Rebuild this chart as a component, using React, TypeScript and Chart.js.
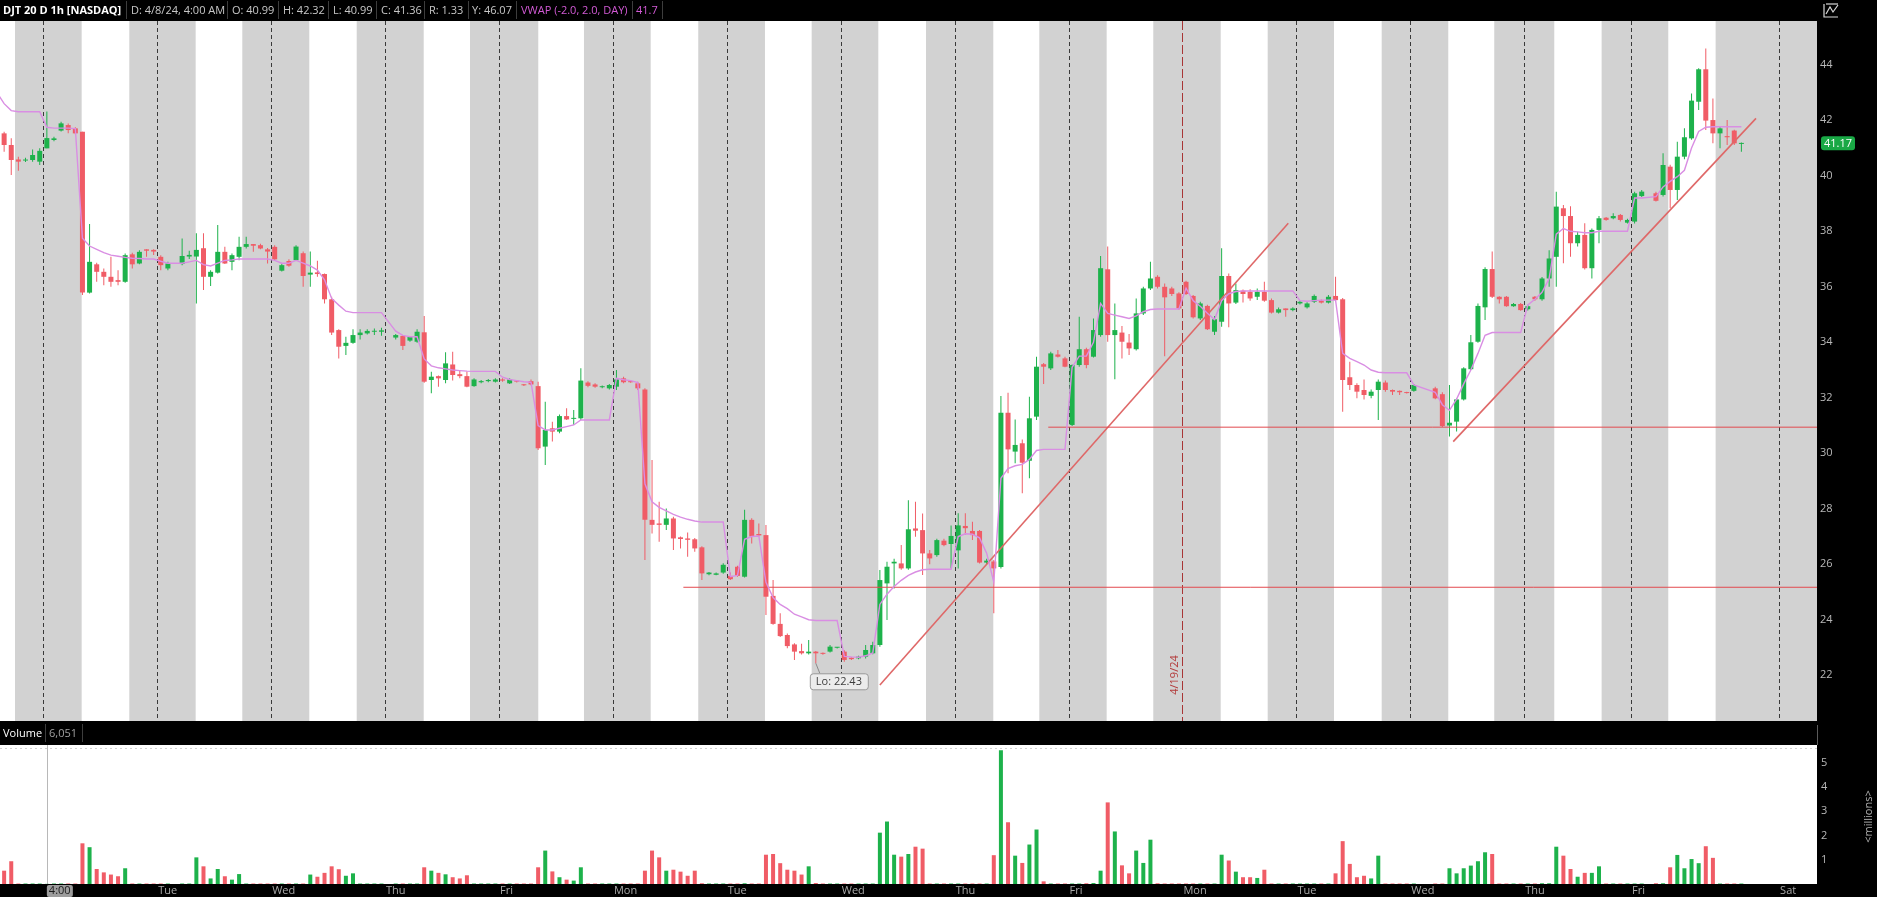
import React, { useEffect, useRef } from 'react';
import { Chart, registerables } from 'chart.js';

Chart.register(...registerables);

const FONT = '"Open Sans", "Noto Sans", "DejaVu Sans", sans-serif';
const UP = '#1db24b';
const DOWN = '#f05c66';

// x unit = hourly bar slot, counted from Mon 4/8/24 4:00 AM (extended hours, 16 bars / day)
const candleSlots = [
  -6, -5, -4, -3, -2, -1,
  0, 1, 2, 3, 4, 5, 6, 7, 8, 9, 10, 11, 12, 13, 14, 15,
  16, 17, 19, 20, 21, 22, 23, 24, 25, 26, 27, 28, 29, 30, 31,
  32, 33, 34, 35, 36, 37, 38, 39, 40, 41, 42, 43, 44, 45, 46, 47,
  49, 50, 51, 52, 53, 54, 55, 56, 57, 58, 59, 60, 61, 62, 63,
  64, 65, 66, 67, 68, 69, 70, 71, 72, 73, 74, 75, 76, 77, 78, 79,
  80, 81, 82, 83, 84, 85, 86, 87, 88, 89, 90, 91, 92, 93, 94, 95,
  96, 97, 98, 99, 100, 101, 102, 103, 104, 105, 106, 107, 108, 109, 110, 111,
  112, 113, 114, 115, 116, 117, 118, 119, 120, 121, 122, 123, 124, 125, 126, 127,
  128, 129, 130, 131, 132, 133, 134, 135, 136, 137, 138, 139, 140, 141, 142, 143,
  144, 145, 146, 147, 148, 149, 150, 151, 152, 153, 154, 155, 156, 157, 158, 159,
  160, 161, 162, 163, 164, 165, 166, 167, 168, 169, 170, 171, 172, 173, 174, 175,
  176, 177, 178, 179, 180, 181, 182, 183, 184, 185, 186, 187, 188, 189, 190, 191,
  192, 195, 196, 197, 198, 199, 200, 201, 202, 203, 204, 205, 206, 207,
  208, 209, 210, 211, 212, 213, 214, 215, 216, 217, 218, 219, 220, 221, 222,
  223, 224, 226, 227, 228, 229, 230, 231, 232, 233, 234, 235, 236, 237, 238,
];

const opens = [
  41.53, 41.11, 40.59, 40.55, 40.57, 40.51,
  40.99, 41.29, 41.63, 41.83, 41.71, 41.59, 35.79, 36.81, 36.54, 36.36, 36.24, 36.18, 37.17, 36.84, 37.35, 37.33,
  37.08, 36.66, 36.82, 37.09, 37.09, 37.39, 36.36, 36.51, 37.26, 36.90, 37.08, 37.44, 37.54, 37.50, 37.35,
  37.44, 36.58, 36.93, 36.96, 37.21, 36.44, 36.52, 36.46, 35.55, 34.44, 33.87, 33.98, 34.26, 34.32, 34.38, 34.38,
  34.17, 34.23, 34.06, 34.02, 34.36, 32.64, 32.78, 32.64, 33.20, 32.85, 32.78, 32.42, 32.56, 32.60, 32.58,
  32.66, 32.52, 32.60, 32.47, 32.60, 32.42, 30.24, 30.90, 30.78, 31.34, 31.24, 31.26, 32.55, 32.48, 32.38, 32.34,
  32.40, 32.70, 32.60, 32.52, 32.30, 27.60, 27.47, 27.42, 27.65, 26.97, 26.93, 26.90, 26.61, 25.64, 25.62, 25.70,
  25.58, 25.91, 25.55, 27.60, 27.09, 27.05, 24.86, 23.85, 23.45, 23.11, 22.87, 22.79, 22.85, 22.79, 22.85, 22.99,
  22.85, 22.63, 22.61, 22.67, 22.79, 23.09, 25.31, 26.03, 26.03, 25.85, 27.29, 27.23, 26.39, 26.33, 26.85, 26.73,
  26.50, 27.38, 27.20, 27.20, 26.06, 26.10, 25.90, 31.46, 30.06, 30.36, 29.73, 31.32, 33.21, 33.06, 33.56, 33.42,
  31.02, 33.18, 33.75, 33.48, 34.26, 36.63, 34.26, 34.35, 33.99, 33.75, 35.04, 35.94, 36.36, 36.00, 35.94, 35.76,
  36.18, 35.67, 34.86, 35.31, 34.38, 34.74, 36.39, 35.43, 35.86, 35.82, 35.64, 35.82, 35.52, 35.07, 35.22, 35.16,
  35.40, 35.26, 35.46, 35.50, 35.43, 35.67, 35.55, 32.74, 32.46, 32.28, 32.07, 32.28, 32.55, 32.28, 32.25, 32.20,
  32.25, 32.34, 32.13, 31.00, 31.14, 31.94, 33.03, 34.02, 35.26, 36.64, 35.64, 35.64, 35.30, 35.38,
  35.19, 35.64, 35.55, 36.30, 37.08, 38.83, 38.55, 37.57, 37.87, 36.67, 38.05, 38.49, 38.47, 38.59, 38.31,
  38.35, 39.27, 39.37, 39.31, 40.33, 39.49, 40.69, 41.35, 42.67, 43.84, 42.01, 41.53, 41.43, 41.63, 41.15,
];

const highs = [
  41.59, 41.35, 40.69, 40.65, 40.95, 40.99,
  42.32, 41.41, 41.95, 41.89, 41.75, 41.59, 38.26, 36.87, 36.66, 37.08, 36.60, 37.20, 37.23, 37.32, 37.35, 37.35,
  37.14, 36.90, 37.74, 37.30, 37.93, 37.93, 36.60, 38.23, 37.44, 37.20, 37.80, 37.80, 37.54, 37.55, 37.40,
  37.50, 36.84, 36.99, 37.50, 37.27, 37.27, 36.94, 36.48, 35.64, 34.47, 34.20, 34.47, 34.47, 34.47, 34.50, 34.52,
  34.30, 34.26, 34.23, 34.47, 34.95, 32.94, 32.80, 33.64, 33.66, 33.00, 32.95, 32.70, 32.64, 32.68, 32.70,
  32.70, 32.70, 32.62, 32.50, 32.66, 32.58, 31.86, 31.14, 31.40, 31.62, 31.56, 33.06, 32.60, 32.52, 32.44, 32.50,
  33.00, 32.76, 32.62, 32.58, 32.34, 29.76, 28.25, 28.01, 27.71, 27.00, 27.14, 26.95, 26.65, 25.72, 25.70, 26.04,
  25.70, 25.95, 27.96, 27.66, 27.47, 27.41, 25.43, 24.23, 23.50, 23.15, 23.13, 23.27, 22.87, 22.82, 23.09, 23.02,
  22.90, 22.65, 22.70, 23.09, 23.21, 25.79, 26.09, 26.20, 26.69, 28.31, 28.25, 27.83, 26.51, 26.92, 26.92, 27.40,
  27.84, 27.84, 27.53, 27.23, 26.20, 26.15, 32.06, 32.18, 31.22, 30.50, 32.04, 33.48, 33.25, 33.66, 33.72, 33.48,
  33.20, 34.92, 33.80, 34.86, 37.11, 37.45, 35.40, 34.59, 34.30, 35.58, 36.00, 36.90, 36.42, 36.12, 36.00, 35.80,
  36.22, 35.70, 35.46, 35.35, 34.95, 37.39, 36.48, 36.12, 35.90, 35.91, 35.94, 36.18, 35.58, 35.25, 35.22, 35.26,
  35.50, 35.44, 35.72, 35.54, 35.70, 36.36, 35.60, 33.30, 32.52, 32.66, 32.30, 32.66, 32.62, 32.30, 32.26, 32.22,
  32.50, 32.40, 32.20, 32.46, 31.98, 33.10, 34.26, 35.40, 36.70, 37.27, 35.66, 35.67, 35.42, 35.42,
  35.35, 35.67, 36.35, 37.32, 39.43, 38.95, 38.90, 37.98, 38.29, 38.10, 38.55, 38.52, 38.65, 38.62, 38.45,
  39.43, 39.49, 39.43, 40.81, 40.40, 41.23, 41.71, 42.97, 43.88, 44.59, 42.79, 41.77, 42.01, 41.66, 41.20,
];

const lows = [
  40.87, 40.03, 40.18, 40.50, 40.51, 40.39,
  40.99, 41.25, 41.60, 41.53, 41.50, 35.70, 35.76, 36.18, 36.06, 36.00, 36.06, 36.15, 36.66, 36.81, 37.08, 37.15,
  36.60, 36.60, 36.78, 37.00, 35.40, 35.88, 36.03, 36.48, 36.82, 36.60, 36.96, 37.38, 37.26, 37.35, 36.84,
  36.96, 36.55, 36.72, 36.94, 36.00, 36.00, 36.36, 35.40, 34.26, 33.42, 33.54, 33.95, 34.10, 34.28, 34.26, 34.24,
  34.10, 33.72, 34.02, 33.98, 32.54, 32.16, 32.40, 32.52, 32.62, 32.70, 32.38, 32.40, 32.52, 32.56, 32.55,
  32.58, 32.50, 32.55, 32.42, 32.45, 30.12, 29.58, 30.42, 30.72, 31.20, 31.02, 31.20, 32.38, 32.36, 32.34, 32.30,
  32.28, 32.52, 32.54, 32.28, 26.15, 27.11, 26.81, 27.23, 26.51, 26.57, 26.27, 26.45, 25.43, 25.60, 25.60, 25.66,
  25.43, 25.55, 25.52, 26.75, 27.00, 24.17, 23.82, 23.38, 22.97, 22.55, 22.75, 22.75, 22.43, 22.74, 22.82, 22.96,
  22.49, 22.55, 22.58, 22.60, 22.76, 23.03, 23.99, 25.13, 25.80, 25.80, 26.99, 25.61, 26.00, 26.27, 26.65, 25.85,
  25.85, 27.06, 26.87, 26.03, 26.00, 24.23, 25.85, 29.28, 29.64, 28.56, 29.10, 31.20, 32.50, 33.00, 33.45, 33.10,
  30.98, 33.12, 33.06, 33.45, 34.20, 34.02, 32.67, 33.42, 33.54, 33.70, 34.98, 35.88, 35.94, 33.50, 35.67, 35.17,
  35.70, 34.86, 34.80, 34.44, 34.26, 34.56, 34.54, 35.38, 35.43, 35.50, 35.52, 35.46, 35.04, 35.04, 34.92, 35.12,
  35.36, 35.22, 35.42, 35.40, 35.40, 35.48, 31.50, 32.28, 31.98, 31.94, 31.98, 31.20, 32.22, 32.10, 32.10, 32.15,
  32.22, 31.95, 30.95, 30.60, 30.78, 31.90, 33.00, 33.98, 34.80, 35.60, 35.40, 35.28, 35.28, 35.14,
  35.15, 35.50, 35.50, 36.00, 36.00, 36.85, 37.08, 37.45, 36.62, 36.30, 37.57, 38.38, 38.43, 38.35, 38.28,
  38.28, 39.24, 39.07, 39.25, 38.83, 39.13, 40.60, 41.30, 42.37, 41.65, 41.17, 40.99, 41.11, 41.11, 40.87,
];

const closes = [
  41.11, 40.57, 40.51, 40.57, 40.75, 40.90,
  41.36, 41.35, 41.89, 41.65, 41.53, 35.79, 36.90, 36.54, 36.36, 36.18, 36.18, 37.14, 36.81, 37.26, 37.30, 37.27,
  36.78, 36.84, 37.11, 37.15, 37.33, 36.36, 36.54, 37.26, 36.84, 37.14, 37.44, 37.54, 37.48, 37.38, 37.27,
  36.99, 36.78, 36.76, 37.45, 36.39, 36.51, 36.46, 35.55, 34.35, 33.84, 33.98, 34.26, 34.35, 34.41, 34.40, 34.43,
  34.26, 33.87, 34.20, 34.38, 32.58, 32.76, 32.70, 33.24, 32.82, 32.78, 32.40, 32.66, 32.60, 32.64, 32.66,
  32.62, 32.66, 32.58, 32.45, 32.48, 30.18, 30.84, 30.78, 31.34, 31.22, 31.27, 32.62, 32.43, 32.40, 32.40, 32.46,
  32.66, 32.56, 32.56, 32.34, 27.60, 27.42, 27.42, 27.65, 26.93, 26.91, 26.88, 26.57, 25.67, 25.70, 25.67, 25.98,
  25.46, 25.58, 27.60, 27.00, 27.04, 24.83, 23.85, 23.41, 23.05, 22.85, 22.79, 22.85, 22.79, 22.77, 23.03, 22.99,
  22.55, 22.58, 22.67, 22.91, 23.09, 25.43, 25.91, 26.09, 25.85, 27.26, 27.21, 26.39, 26.21, 26.87, 26.69, 27.02,
  27.40, 27.30, 27.05, 26.06, 26.13, 25.85, 31.46, 30.14, 30.30, 29.66, 31.26, 33.12, 33.12, 33.60, 33.48, 33.12,
  33.18, 33.75, 33.18, 34.44, 36.67, 34.26, 34.44, 34.02, 33.78, 35.04, 35.94, 36.30, 36.00, 35.62, 35.74, 35.22,
  35.74, 34.90, 35.40, 34.47, 34.83, 36.39, 35.40, 35.88, 35.74, 35.58, 35.82, 35.50, 35.07, 35.19, 35.16, 35.22,
  35.46, 35.40, 35.67, 35.43, 35.64, 35.52, 32.64, 32.46, 32.22, 32.10, 32.22, 32.58, 32.28, 32.22, 32.20, 32.17,
  32.46, 31.98, 30.98, 31.10, 31.94, 33.06, 34.00, 35.31, 36.64, 35.64, 35.55, 35.30, 35.38, 35.16,
  35.30, 35.55, 36.30, 37.02, 38.89, 38.55, 37.57, 37.87, 36.67, 38.05, 38.47, 38.41, 38.55, 38.41, 38.41,
  39.37, 39.43, 39.10, 40.39, 39.49, 40.69, 41.39, 42.71, 43.84, 41.99, 41.53, 41.71, 41.39, 41.17, 41.17,
];

// volume in millions
const volumes = [
  0.55, 0.94, 0.02, 0.02, 0.02, 0.02,
  0.006, 0.02, 0.02, 0.02, 0.02, 1.68, 1.52, 0.62, 0.48, 0.39, 0.32, 0.65, 0.02, 0.02, 0.02, 0.02,
  0.02, 0.02, 0.02, 0.02, 1.10, 0.73, 0.23, 0.62, 0.32, 0.18, 0.41, 0.02, 0.02, 0.02, 0.02,
  0.02, 0.02, 0.02, 0.02, 0.02, 0.39, 0.30, 0.46, 0.73, 0.61, 0.34, 0.44, 0.02, 0.02, 0.02, 0.02,
  0.02, 0.02, 0.02, 0.02, 0.69, 0.55, 0.46, 0.40, 0.28, 0.23, 0.36, 0.02, 0.02, 0.02, 0.02,
  0.02, 0.02, 0.02, 0.02, 0.02, 0.69, 1.38, 0.52, 0.28, 0.18, 0.14, 0.69, 0.02, 0.02, 0.02, 0.02,
  0.02, 0.02, 0.02, 0.02, 0.55, 1.38, 1.10, 0.55, 0.59, 0.51, 0.34, 0.55, 0.03, 0.02, 0.02, 0.02,
  0.02, 0.02, 0.03, 0.02, 0.02, 1.21, 1.24, 0.86, 0.59, 0.55, 0.39, 0.73, 0.04, 0.02, 0.02, 0.02,
  0.02, 0.02, 0.02, 0.02, 0.02, 2.12, 2.58, 1.21, 1.13, 1.24, 1.54, 1.46, 0.02, 0.02, 0.02, 0.02,
  0.02, 0.02, 0.02, 0.02, 0.02, 1.19, 5.52, 2.55, 1.17, 0.87, 1.63, 2.25, 0.11, 0.02, 0.02, 0.02,
  0.02, 0.02, 0.03, 0.04, 0.55, 3.37, 2.17, 0.77, 0.44, 1.38, 0.87, 1.83, 0.03, 0.02, 0.02, 0.02,
  0.02, 0.02, 0.02, 0.02, 0.02, 1.21, 0.97, 0.51, 0.28, 0.28, 0.25, 0.59, 0.02, 0.02, 0.02, 0.02,
  0.02, 0.02, 0.02, 0.02, 0.02, 0.44, 1.77, 0.83, 0.28, 0.34, 0.23, 1.17, 0.02, 0.02, 0.02, 0.02,
  0.02, 0.02, 0.02, 0.65, 0.44, 0.65, 0.76, 0.94, 1.31, 1.24, 0.02, 0.02, 0.02, 0.02,
  0.02, 0.02, 0.03, 0.03, 1.54, 1.17, 0.62, 0.30, 0.46, 0.46, 0.73, 0.02, 0.02, 0.02, 0.02,
  0.02, 0.02, 0.03, 0.03, 0.69, 1.20, 0.65, 1.03, 0.86, 1.56, 1.08, 0.02, 0.02, 0.02, 0.02,
];

// VWAP (-2.0, 2.0, DAY) study, read at bar slots
const vwapSlots = [
  -7, -6, -5, -4, -3, -2, -1,
  0, 1, 2, 3, 4, 5, 6, 7, 8, 9, 10, 11, 12, 13, 14, 15,
  16, 17, 19, 20, 21, 22, 23, 24, 25, 26, 27, 28, 29, 30, 31,
  32, 33, 34, 35, 36, 37, 38, 39, 40, 41, 42, 43, 44, 45, 46, 47,
  49, 50, 51, 52, 53, 54, 55, 56, 57, 58, 59, 60, 61, 62, 63,
  64, 65, 66, 67, 68, 69, 70, 71, 72, 73, 74, 75, 76, 77, 78, 79,
  80, 81, 82, 83, 84, 85, 86, 87, 88, 89, 90, 91, 92, 93, 94, 95,
  96, 97, 98, 99, 100, 101, 102, 103, 104, 105, 106, 107, 108, 109, 110, 111,
  112, 113, 114, 115, 116, 117, 118, 119, 120, 121, 122, 123, 124, 125, 126, 127,
  128, 129, 130, 131, 132, 133, 134, 135, 136, 137, 138, 139, 140, 141, 142, 143,
  144, 145, 146, 147, 148, 149, 150, 151, 152, 153, 154, 155, 156, 157, 158, 159,
  160, 161, 162, 163, 164, 165, 166, 167, 168, 169, 170, 171, 172, 173, 174, 175,
  176, 177, 178, 179, 180, 181, 182, 183, 184, 185, 186, 187, 188, 189, 190, 191,
  192, 195, 196, 197, 198, 199, 200, 201, 202, 203, 204, 205, 206, 207,
  208, 209, 210, 211, 212, 213, 214, 215, 216, 217, 218, 219, 220, 221, 222,
  223, 224, 226, 227, 228, 229, 230, 231, 232, 233, 234, 235, 236, 237, 238,
];

const vwapValues = [
  43.0, 42.6, 42.35, 42.31, 42.31, 42.31, 42.31,
  41.75, 41.72, 41.72, 41.72, 41.7, 37.75, 37.47, 37.35, 37.23, 37.14, 37.1, 37.06, 37.03, 37.02, 37.0, 37.0,
  36.92, 36.85, 36.85, 36.9, 36.95, 36.8, 36.75, 36.85, 36.95, 36.97, 37.0, 37.0, 37.0, 37.0, 37.0,
  36.95, 36.85, 36.85, 36.95, 36.85, 36.75, 36.6, 36.25, 35.58, 35.34, 35.12, 35.07, 35.07, 35.07, 35.07, 35.07,
  34.4, 34.25, 34.2, 34.2, 33.4, 33.15, 33.08, 33.04, 33.0, 32.98, 32.96, 32.95, 32.95, 32.95, 32.95,
  32.74, 32.66, 32.62, 32.58, 32.56, 31.0, 30.84, 30.84, 30.9, 30.96, 31.02, 31.2, 31.2, 31.2, 31.2, 31.2,
  32.7, 32.65, 32.62, 32.55, 28.9, 28.25, 28.05, 27.92, 27.8, 27.7, 27.62, 27.56, 27.52, 27.52, 27.52, 27.52,
  25.55, 25.6, 26.9, 27.0, 27.02, 25.35, 24.8, 24.55, 24.4, 24.2, 24.1, 24.0, 23.97, 23.97, 23.97, 23.97,
  22.68, 22.66, 22.65, 22.7, 22.8, 24.55, 24.92, 25.2, 25.42, 25.6, 25.72, 25.8, 25.82, 25.82, 25.82, 25.82,
  27.0, 27.1, 27.08, 26.95, 26.4, 25.35, 29.1, 29.45, 29.55, 29.6, 29.78, 30.1, 30.14, 30.14, 30.14, 30.14,
  33.1, 33.5, 33.5, 34.0, 35.4, 35.04, 34.98, 34.92, 34.86, 34.95, 35.1, 35.18, 35.2, 35.2, 35.2, 35.2,
  35.95, 35.5, 35.3, 35.05, 34.82, 35.5, 35.75, 35.83, 35.85, 35.85, 35.85, 35.85, 35.85, 35.85, 35.85, 35.85,
  35.5, 35.48, 35.5, 35.52, 35.52, 35.52, 33.6, 33.42, 33.3, 33.18, 33.0, 32.92, 32.9, 32.9, 32.9, 32.9,
  32.46, 32.2, 31.75, 31.55, 31.95, 32.5, 33.0, 33.6, 34.25, 34.35, 34.35, 34.35, 34.35, 34.35,
  35.35, 35.55, 35.8, 36.3, 37.9, 38.1, 38.0, 37.98, 37.95, 37.95, 38.0, 38.0, 38.0, 38.0, 38.0,
  39.2, 39.2, 39.25, 39.6, 39.8, 39.97, 40.2, 41.0, 41.6, 41.75, 41.77, 41.77, 41.77, 41.77, 41.77,
];

// drawn trend lines (slot, price) -> (slot, price); null end slot = extends to right edge
const trendStartSlots = [89.4, 140.65, 117.0, 197.53];
const trendStartPrices = [25.17, 30.94, 21.65, 30.42];
const trendEndSlots = [null, null, 174.36, 240.05];
const trendEndPrices = [25.17, 30.94, 38.29, 42.07];

// regular trading hours (white) per day, in bar slots
const rthOpenSlots = [-20, 4.89, 20.9, 36.86, 52.93, 69.02, 84.81, 100.86, 116.78, 132.93, 148.85, 164.87, 180.78, 196.83, 211.72, 227.73];
const rthCloseSlots = [-4.47, 11.58, 27.45, 43.52, 59.43, 75.44, 91.49, 107.42, 123.48, 139.39, 155.4, 171.47, 187.48, 203.29, 218.37, 234.38];

// day boundaries and bottom axis labels
const dayBoundarySlots = [-0.5, 15.5, 31.5, 47.5, 63.5, 79.5, 95.5, 111.5, 127.5, 143.5, 175.5, 191.5, 207.5, 222.5, 243.3];
const dayLabelSlots = [15.5, 31.5, 47.5, 63.5, 79.5, 95.5, 111.5, 127.5, 143.5, 159.5, 175.5, 191.5, 207.5, 222.5, 243.3];
const dayLabels = ['Tue', 'Wed', 'Thu', 'Fri', 'Mon', 'Tue', 'Wed', 'Thu', 'Fri', 'Mon', 'Tue', 'Wed', 'Thu', 'Fri', 'Sat'];
const dateMarkerSlot = 159.5;
const dateMarkerLabel = '4/19/24';
const cursorSlot = 0;
const cursorLabel = '4:00';

const priceTicks = [22, 24, 26, 28, 30, 32, 34, 36, 38, 40, 42, 44];
const volumeTicks = [1, 2, 3, 4, 5];

const X_MIN = -6.58;
const X_MAX = 248.62;
const PRICE_MIN = 20.35;
const PRICE_MAX = 45.58;
const VOL_MAX = 5.74;

const headerCells = [
  { left: 3, text: 'DJT 20 D 1h [NASDAQ]', color: '#ffffff', bold: true },
  { left: 131, text: 'D: 4/8/24, 4:00 AM', color: '#c8c8c8' },
  { left: 232, text: 'O: 40.99', color: '#c8c8c8' },
  { left: 283, text: 'H: 42.32', color: '#c8c8c8' },
  { left: 333, text: 'L: 40.99', color: '#c8c8c8' },
  { left: 381, text: 'C: 41.36', color: '#c8c8c8' },
  { left: 429, text: 'R: 1.33', color: '#c8c8c8' },
  { left: 472, text: 'Y: 46.07', color: '#c8c8c8' },
  { left: 521, text: 'VWAP (-2.0, 2.0, DAY)', color: '#d35ad6' },
  { left: 636, text: '41.7', color: '#d35ad6' },
];
const headerSeps = [126, 227, 278, 328, 376, 424, 468, 516, 632, 662];

function colorsFor() {
  return candleSlots.map((_, i) => (closes[i] >= opens[i] ? UP : DOWN));
}

function roundRect(ctx: CanvasRenderingContext2D, x: number, y: number, w: number, h: number, r: number) {
  ctx.beginPath();
  ctx.moveTo(x + r, y);
  ctx.lineTo(x + w - r, y);
  ctx.quadraticCurveTo(x + w, y, x + w, y + r);
  ctx.lineTo(x + w, y + h - r);
  ctx.quadraticCurveTo(x + w, y + h, x + w - r, y + h);
  ctx.lineTo(x + r, y + h);
  ctx.quadraticCurveTo(x, y + h, x, y + h - r);
  ctx.lineTo(x, y + r);
  ctx.quadraticCurveTo(x, y, x + r, y);
  ctx.closePath();
}

const pricePlugin = {
  id: 'priceDecor',
  beforeDraw(chart: any) {
    const { ctx, width, height } = chart;
    ctx.save();
    ctx.fillStyle = '#000';
    ctx.fillRect(0, 0, width, height);
    ctx.restore();
  },
  beforeDatasetsDraw(chart: any) {
    const { ctx, chartArea, scales } = chart;
    const { left, right, top, bottom } = chartArea;
    const x = scales.x;
    ctx.save();
    ctx.beginPath();
    ctx.rect(left, top, right - left, bottom - top);
    ctx.clip();
    ctx.fillStyle = '#ffffff';
    ctx.fillRect(left, top, right - left, bottom - top);
    ctx.fillStyle = '#d2d2d2';
    let from = X_MIN;
    for (let k = 0; k < rthOpenSlots.length; k++) {
      const a = x.getPixelForValue(from);
      const b = x.getPixelForValue(rthOpenSlots[k]);
      if (b > a) ctx.fillRect(a, top, b - a, bottom - top);
      from = rthCloseSlots[k];
    }
    const a0 = x.getPixelForValue(from);
    ctx.fillRect(a0, top, right - a0, bottom - top);

    ctx.strokeStyle = '#3a3a3a';
    ctx.lineWidth = 1;
    ctx.setLineDash([4, 3]);
    for (const s of dayBoundarySlots) {
      const px = Math.round(x.getPixelForValue(s)) + 0.5;
      ctx.beginPath();
      ctx.moveTo(px, top);
      ctx.lineTo(px, bottom);
      ctx.stroke();
    }
    ctx.strokeStyle = '#a83636';
    ctx.setLineDash([9, 3]);
    const mx = Math.round(x.getPixelForValue(dateMarkerSlot)) + 0.5;
    ctx.beginPath();
    ctx.moveTo(mx, top);
    ctx.lineTo(mx, bottom);
    ctx.stroke();
    ctx.setLineDash([]);
    ctx.restore();
  },
  afterDraw(chart: any) {
    const { ctx, chartArea, scales } = chart;
    const x = scales.x;
    const y = scales.y;
    ctx.save();
    // date marker label
    const mx = x.getPixelForValue(dateMarkerSlot);
    ctx.translate(mx - 8, chartArea.bottom - 46);
    ctx.rotate(-Math.PI / 2);
    ctx.fillStyle = '#b33a3a';
    ctx.font = `11px ${FONT}`;
    ctx.textAlign = 'center';
    ctx.textBaseline = 'middle';
    ctx.fillText(dateMarkerLabel, 0, 0);
    ctx.restore();

    // Lo bubble
    let loIdx = 0;
    for (let i = 1; i < lows.length; i++) if (lows[i] < lows[loIdx]) loIdx = i;
    const lx = x.getPixelForValue(candleSlots[loIdx]);
    const ly = y.getPixelForValue(lows[loIdx]);
    ctx.save();
    ctx.strokeStyle = '#8a8a8a';
    ctx.lineWidth = 1;
    ctx.beginPath();
    ctx.moveTo(lx, ly);
    ctx.lineTo(lx + 4, ly + 10);
    ctx.stroke();
    roundRect(ctx, lx - 5.5, ly + 10.5, 58, 16, 3);
    ctx.fillStyle = '#ececec';
    ctx.fill();
    ctx.strokeStyle = '#9a9a9a';
    ctx.stroke();
    ctx.fillStyle = '#3c3c3c';
    ctx.font = `11px ${FONT}`;
    ctx.textAlign = 'left';
    ctx.textBaseline = 'middle';
    ctx.fillText(`Lo: ${lows[loIdx].toFixed(2)}`, lx, ly + 19);
    ctx.restore();

    // last price bubble
    const last = closes[closes.length - 1];
    const py = y.getPixelForValue(last);
    ctx.save();
    roundRect(ctx, chartArea.right + 4, py - 7, 34, 14, 3);
    ctx.fillStyle = closes[closes.length - 1] >= opens[opens.length - 1] ? '#19a845' : DOWN;
    ctx.fill();
    ctx.fillStyle = '#ffffff';
    ctx.font = `11px ${FONT}`;
    ctx.textAlign = 'center';
    ctx.textBaseline = 'middle';
    ctx.fillText(last.toFixed(2), chartArea.right + 21, py + 0.5);
    ctx.restore();
  },
};

const volumePlugin = {
  id: 'volDecor',
  beforeDraw(chart: any) {
    const { ctx, width, height } = chart;
    ctx.save();
    ctx.fillStyle = '#000';
    ctx.fillRect(0, 0, width, height);
    ctx.restore();
  },
  beforeDatasetsDraw(chart: any) {
    const { ctx, chartArea, scales } = chart;
    const { left, right, top, bottom } = chartArea;
    ctx.save();
    ctx.fillStyle = '#ffffff';
    ctx.fillRect(left, top, right - left, bottom - top);
    ctx.strokeStyle = '#d0d0d0';
    ctx.setLineDash([2, 3]);
    ctx.beginPath();
    ctx.moveTo(left, top + 3.5);
    ctx.lineTo(right, top + 3.5);
    ctx.stroke();
    ctx.setLineDash([]);
    const cx = Math.round(scales.x.getPixelForValue(cursorSlot)) + 0.5;
    ctx.strokeStyle = '#b8b8b8';
    ctx.beginPath();
    ctx.moveTo(cx, top);
    ctx.lineTo(cx, bottom);
    ctx.stroke();
    ctx.restore();
  },
  afterDraw(chart: any) {
    const { ctx, chartArea, scales } = chart;
    const x = scales.x;
    ctx.save();
    ctx.font = `11px ${FONT}`;
    ctx.textBaseline = 'middle';
    ctx.textAlign = 'left';
    ctx.fillStyle = '#a9a9a9';
    const ly = chartArea.bottom + 7;
    dayLabelSlots.forEach((s, i) => {
      ctx.fillText(dayLabels[i], x.getPixelForValue(s) + 1, ly);
    });
    // cursor time label
    const cx = x.getPixelForValue(cursorSlot);
    roundRect(ctx, cx, chartArea.bottom + 1, 26, 12, 2);
    ctx.fillStyle = '#9c9c9c';
    ctx.fill();
    ctx.fillStyle = '#1a1a1a';
    ctx.fillText(cursorLabel, cx + 2, ly);
    // axis separator in header strip
    ctx.strokeStyle = '#5a5a5a';
    ctx.beginPath();
    ctx.moveTo(chartArea.right + 0.5, 4);
    ctx.lineTo(chartArea.right + 0.5, chartArea.top);
    ctx.stroke();
    // <millions>
    ctx.translate(chartArea.right + 52, (chartArea.top + chartArea.bottom) / 2 + 2);
    ctx.rotate(-Math.PI / 2);
    ctx.textAlign = 'center';
    ctx.fillStyle = '#b0b0b0';
    ctx.fillText('<millions>', 0, 0);
    ctx.restore();
  },
};

const fixAxis = (a: any) => {
  a.width = 60;
  a.paddingTop = 0;
  a.paddingBottom = 0;
};

export default function App() {
  const priceRef = useRef<HTMLCanvasElement>(null);
  const volRef = useRef<HTMLCanvasElement>(null);

  useEffect(() => {
    const colors = colorsFor();
    const bodies = candleSlots.map((s, i) => ({ x: s, y: [opens[i], closes[i]] }));
    const wicks = candleSlots.map((s, i) => ({ x: s, y: [lows[i], highs[i]] }));
    const vwap = vwapSlots.map((s, i) => ({ x: s, y: vwapValues[i] }));
    const trends = trendStartSlots.map((s, i) => {
      const horizontal = trendEndSlots[i] === null;
      return {
        type: 'line',
        label: `trend${i}`,
        data: [
          { x: s, y: trendStartPrices[i] },
          { x: horizontal ? X_MAX : trendEndSlots[i], y: trendEndPrices[i] },
        ],
        borderColor: horizontal ? '#e24a4f' : '#df6868',
        borderWidth: horizontal ? 1 : 1.6,
        pointRadius: 0,
        order: 1,
      };
    });

    const commonX = { type: 'linear', min: X_MIN, max: X_MAX, display: false, offset: false, grid: { display: false } };
    const tickFont = { family: FONT, size: 11 };

    const priceChart = new Chart(priceRef.current as HTMLCanvasElement, {
      type: 'bar',
      data: {
        datasets: [
          { type: 'line', label: 'VWAP', data: vwap, borderColor: '#d98ee3', borderWidth: 1.4, pointRadius: 0, tension: 0, order: 0 },
          ...trends,
          { type: 'bar', label: 'wick', data: wicks, backgroundColor: colors, barThickness: 1, grouped: false, borderWidth: 0, inflateAmount: 0, order: 3 },
          { type: 'bar', label: 'body', data: bodies, backgroundColor: colors, barThickness: 5, grouped: false, borderWidth: 0, inflateAmount: 0, minBarLength: 1, order: 2 },
        ],
      } as any,
      options: {
        animation: false,
        responsive: false,
        maintainAspectRatio: false,
        devicePixelRatio: 1,
        events: [],
        layout: { padding: { top: 21, right: 0, bottom: 0, left: 0 } },
        plugins: { legend: { display: false }, tooltip: { enabled: false } },
        scales: {
          x: commonX,
          y: {
            type: 'linear',
            position: 'right',
            min: PRICE_MIN,
            max: PRICE_MAX,
            grid: { display: false, drawTicks: false },
            border: { display: false },
            ticks: { color: '#b8b8b8', font: tickFont, padding: 3 },
            afterBuildTicks: (a: any) => { a.ticks = priceTicks.map((v) => ({ value: v })); },
            afterFit: fixAxis,
          },
        },
      } as any,
      plugins: [pricePlugin],
    });

    const volChart = new Chart(volRef.current as HTMLCanvasElement, {
      type: 'bar',
      data: {
        datasets: [
          { label: 'Volume', data: candleSlots.map((s, i) => ({ x: s, y: volumes[i] })), backgroundColor: colors, barThickness: 4, borderWidth: 0, inflateAmount: 0 },
        ],
      } as any,
      options: {
        animation: false,
        responsive: false,
        maintainAspectRatio: false,
        devicePixelRatio: 1,
        events: [],
        layout: { padding: { top: 24, right: 0, bottom: 13, left: 0 } },
        plugins: { legend: { display: false }, tooltip: { enabled: false } },
        scales: {
          x: commonX,
          y: {
            type: 'linear',
            position: 'right',
            min: 0,
            max: VOL_MAX,
            grid: { display: false, drawTicks: false },
            border: { display: false },
            ticks: { color: '#b8b8b8', font: tickFont, padding: 4 },
            afterBuildTicks: (a: any) => { a.ticks = volumeTicks.map((v) => ({ value: v })); },
            afterFit: fixAxis,
          },
        },
      } as any,
      plugins: [volumePlugin],
    });

    return () => {
      priceChart.destroy();
      volChart.destroy();
    };
  }, []);

  const textBase: React.CSSProperties = {
    position: 'absolute',
    top: 0,
    height: 20,
    lineHeight: '20px',
    fontSize: 11,
    whiteSpace: 'nowrap',
    fontFamily: FONT,
  };

  return (
    <div style={{ position: 'fixed', left: 0, top: 0, width: 1877, height: 897, background: '#000', overflow: 'hidden' }}>
      <canvas ref={priceRef} width={1877} height={721} style={{ position: 'absolute', left: 0, top: 0, width: 1877, height: 721 }} />
      <canvas ref={volRef} width={1877} height={176} style={{ position: 'absolute', left: 0, top: 721, width: 1877, height: 176 }} />
      {headerCells.map((c, i) => (
        <span key={i} style={{ ...textBase, left: c.left, color: c.color, fontWeight: c.bold ? 700 : 400 }}>{c.text}</span>
      ))}
      {headerSeps.map((l, i) => (
        <div key={i} style={{ position: 'absolute', left: l, top: 1, width: 1, height: 18, background: '#3d3d3d' }} />
      ))}
      <span style={{ ...textBase, top: 723, left: 3, color: '#ffffff' }}>Volume</span>
      <div style={{ position: 'absolute', left: 45, top: 724, width: 1, height: 18, background: '#3d3d3d' }} />
      <span style={{ ...textBase, top: 723, left: 49, color: '#a0a0a0' }}>6,051</span>
      <div style={{ position: 'absolute', left: 82, top: 724, width: 1, height: 18, background: '#3d3d3d' }} />
      <svg style={{ position: 'absolute', left: 1822, top: 2 }} width={18} height={17} viewBox="0 0 18 17">
        <polyline points="2,2 2,15 16,15" fill="none" stroke="#d8d8d8" strokeWidth={1.2} />
        <polyline points="4,12 8,5 11,10 16,3" fill="none" stroke="#d8d8d8" strokeWidth={1.2} />
        <line x1={4} y1={2} x2={16} y2={2} stroke="#d8d8d8" strokeWidth={1.2} />
      </svg>
    </div>
  );
}
